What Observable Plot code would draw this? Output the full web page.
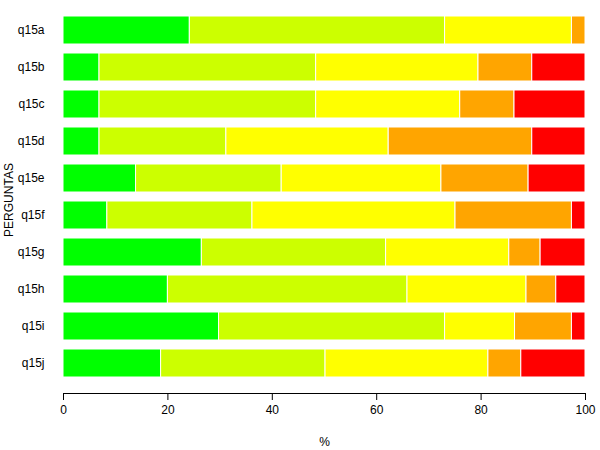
<!DOCTYPE html>
<html>
<head>
<meta charset="utf-8">
<script src="https://cdn.jsdelivr.net/npm/d3@7"></script>
<script src="https://cdn.jsdelivr.net/npm/@observablehq/plot@0.6"></script>
<style>
  html, body { margin: 0; padding: 0; background: #fff; }
  #chart { width: 600px; height: 450px; }
</style>
</head>
<body>
<div id="chart"></div>
<script>
const categories = ["q15a","q15b","q15c","q15d","q15e","q15f","q15g","q15h","q15i","q15j"];
const levels = ["1","2","3","4","5"];
const levelColors = ["#00FF00","#CCFF00","#FFFF00","#FFA500","#FF0000"];
const level1 = [24.2, 6.9, 6.9, 6.9, 13.9, 8.4, 26.5, 20.0, 29.8, 18.7];
const level2 = [48.9, 41.5, 41.5, 24.3, 27.9, 27.8, 35.3, 45.9, 43.3, 31.5];
const level3 = [24.3, 31.1, 27.6, 31.1, 30.6, 38.9, 23.6, 22.8, 13.4, 31.2];
const level4 = [2.6, 10.3, 10.4, 27.5, 16.7, 22.3, 6.0, 5.7, 10.9, 6.3];
const level5 = [0.0, 10.2, 13.6, 10.2, 10.9, 2.6, 8.6, 5.6, 2.6, 12.3];
const xTicks = [0, 20, 40, 60, 80, 100];

const series = [level1, level2, level3, level4, level5];
const rows = [];
categories.forEach((c, i) => {
  series.forEach((s, j) => rows.push({cat: c, level: levels[j], value: s[i]}));
});

const chart = Plot.plot({
  width: 600,
  height: 450,
  marginLeft: 63,
  marginRight: 15,
  marginTop: 6,
  marginBottom: 57,
  style: {fontFamily: "Liberation Sans, Arial, sans-serif", fontSize: "12px", color: "#000", background: "#fff"},
  x: {domain: [0, 100], label: "%", labelArrow: "none"},
  y: {domain: categories, range: [6, 387], padding: 0.24, label: "PERGUNTAS", labelArrow: "none"},
  color: {domain: levels, range: levelColors},
  marks: [
    Plot.barX(rows, Plot.stackX({x: "value", y: "cat", fill: "level", stroke: "white", strokeWidth: 1, order: null})),
    Plot.frame({anchor: "bottom", stroke: "#000"}),
    Plot.axisX({ticks: xTicks, tickSize: 7, tickPadding: 5, fontSize: 12, label: "%", labelArrow: "none", labelAnchor: "center", labelOffset: 52, stroke: "#000"}),
    Plot.axisY({tickSize: 0, tickPadding: 19, fontSize: 12, label: "PERGUNTAS", labelArrow: "none", labelAnchor: "center", labelOffset: 59})
  ]
});
document.getElementById("chart").appendChild(chart);
</script>
</body>
</html>
